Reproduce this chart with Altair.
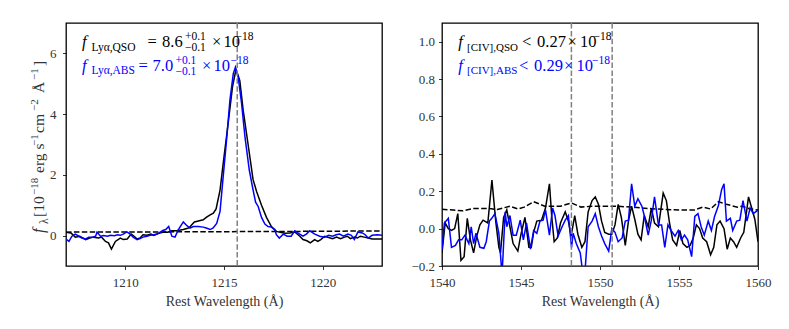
import altair as alt
import pandas as pd

# ---------------- data ----------------
lya_wave_qso = [1207.0, 1207.25, 1207.47, 1207.7, 1208.0, 1208.2, 1208.4, 1208.65, 1208.8, 1209.0,
                1209.15, 1209.3, 1209.5, 1209.75, 1209.9, 1210.1, 1210.3, 1210.45, 1210.6, 1210.75,
                1210.9, 1211.1, 1211.3, 1211.45, 1211.6, 1211.8, 1211.95, 1212.15, 1212.35, 1212.6,
                1212.94, 1213.2, 1213.3, 1213.5, 1213.75, 1213.95, 1214.1, 1214.3, 1214.46, 1214.6,
                1214.8, 1214.96, 1215.21, 1215.43, 1215.6, 1215.7, 1215.8, 1215.97, 1216.22, 1216.47,
                1216.65, 1216.9, 1217.15, 1217.4, 1217.65, 1217.9, 1218.1, 1218.33, 1218.58, 1218.84,
                1219.0, 1219.2, 1219.37, 1219.59, 1219.75, 1219.9, 1220.1, 1220.3, 1220.5, 1220.7,
                1220.9, 1221.1, 1221.25, 1221.4, 1221.6, 1221.75, 1221.9, 1222.1, 1222.3, 1222.5,
                1222.76, 1223.0]
lya_flux_qso = [0.11, 0.09, -0.05, -0.02, -0.13, -0.08, -0.05, -0.08, -0.05, -0.19,
                -0.24, -0.44, -0.19, -0.08, -0.13, -0.11, 0.05, -0.02, -0.11, -0.08,
                0.03, 0.01, 0.05, 0.01, 0.05, 0.09, 0.12, 0.11, 0.16, 0.16,
                0.20, 0.25, 0.31, 0.45, 0.49, 0.52, 0.60, 0.68, 0.74, 0.88,
                1.50, 2.38, 3.70, 4.90, 5.45, 5.30, 5.10, 4.13, 3.00, 1.85,
                1.45, 1.00, 0.60, 0.30, 0.14, 0.10, 0.08, 0.09, 0.12, -0.02,
                -0.13, -0.17, -0.24, -0.13, -0.19, -0.13, -0.02, -0.06, -0.10, -0.05,
                -0.10, -0.05, -0.02, -0.10, -0.05, -0.08, -0.02, -0.05, -0.08, -0.11,
                -0.11, -0.11]

lya_wave_abs = [1207.0, 1207.15, 1207.3, 1207.47, 1207.65, 1207.8, 1208.0, 1208.15, 1208.35, 1208.5,
                1208.57, 1208.75, 1208.9, 1209.1, 1209.25, 1209.45, 1209.6, 1209.75, 1209.9, 1210.08,
                1210.25, 1210.4, 1210.6, 1210.75, 1210.9, 1211.1, 1211.25, 1211.45, 1211.6, 1211.75,
                1211.9, 1212.05, 1212.2, 1212.36, 1212.52, 1212.69, 1212.94, 1213.1, 1213.28, 1213.45,
                1213.7, 1213.95, 1214.1, 1214.3, 1214.45, 1214.63, 1214.8, 1214.96, 1215.13, 1215.3,
                1215.47, 1215.58, 1215.72, 1215.89, 1216.06, 1216.28, 1216.47, 1216.6, 1216.73, 1216.9,
                1217.07, 1217.23, 1217.4, 1217.57, 1217.65, 1217.8, 1218.0, 1218.2, 1218.4, 1218.58,
                1218.75, 1219.0, 1219.17, 1219.34, 1219.6, 1219.84, 1220.1, 1220.3, 1220.5, 1220.68,
                1220.85, 1221.05, 1221.27, 1221.45, 1221.6, 1221.78, 1222.0, 1222.15, 1222.3, 1222.5,
                1222.76, 1223.0]
lya_flux_abs = [-0.11, -0.19, -0.02, 0.05, -0.02, -0.08, -0.11, -0.05, -0.05, -0.02,
                0.11, -0.02, 0.00, -0.02, 0.01, 0.00, 0.03, 0.01, 0.05, 0.12,
                0.05, -0.05, -0.13, -0.10, -0.05, -0.02, 0.01, 0.03, 0.05, 0.11,
                0.17, 0.20, 0.30, -0.02, -0.05, 0.20, 0.45, 0.34, 0.25, 0.30,
                0.30, 0.28, 0.25, 0.20, 0.25, 0.40, 0.80, 1.95, 3.15, 4.46,
                5.33, 5.55, 5.22, 4.35, 3.26, 2.16, 1.51, 1.10, 0.96, 0.60,
                0.38, 0.30, 0.28, 0.20, 0.03, -0.08, 0.05, -0.02, -0.02, 0.16,
                0.08, -0.02, 0.05, 0.16, 0.05, -0.02, -0.05, 0.01, -0.02, 0.03,
                0.05, -0.02, 0.05, 0.01, -0.13, 0.12, 0.09, 0.03, -0.08, 0.01,
                0.03, 0.01]

lya_wave_err = [1207.0, 1211.0, 1215.0, 1219.0, 1223.0]
lya_flux_err = [0.115, 0.12, 0.13, 0.14, 0.155]
lya_center = [1215.67]

civ_wave_qso = [1540.0, 1540.2, 1540.4, 1540.6, 1540.8, 1541.0, 1541.2, 1541.4, 1541.6, 1541.8,
                1542.0, 1542.2, 1542.4, 1542.6, 1542.9, 1543.16, 1543.4, 1543.6, 1543.7, 1543.9,
                1544.1, 1544.3, 1544.5, 1544.8, 1545.0, 1545.25, 1545.5, 1545.65, 1545.8, 1546.0,
                1546.3, 1546.55, 1546.8, 1546.95, 1547.1, 1547.3, 1547.5, 1547.8, 1548.0, 1548.17,
                1548.4, 1548.6, 1548.85, 1549.05, 1549.25, 1549.5, 1549.7, 1549.9, 1550.1, 1550.3,
                1550.55, 1550.75, 1550.95, 1551.15, 1551.35, 1551.6, 1551.8, 1552.0, 1552.2, 1552.4,
                1552.6, 1552.8, 1553.05, 1553.25, 1553.45, 1553.7, 1554.0, 1554.2, 1554.4, 1554.6,
                1554.85, 1555.05, 1555.25, 1555.5, 1555.7, 1555.9, 1556.1, 1556.3, 1556.5, 1556.75,
                1557.0, 1557.2, 1557.4, 1557.6, 1557.85, 1558.05, 1558.25, 1558.45, 1558.65, 1558.9,
                1559.1, 1559.4, 1559.6, 1559.8, 1560.0]
civ_flux_qso = [-0.13, 0.03, 0.00, -0.01, 0.00, 0.08, -0.17, -0.15, 0.055, -0.06,
                -0.13, -0.04, 0.02, 0.045, 0.03, 0.26, 0.04, -0.10, -0.13, 0.06,
                0.10, 0.01, -0.08, -0.12, -0.03, 0.06, -0.10, -0.10, -0.02, 0.04,
                0.045, 0.11, 0.24, 0.06, -0.07, -0.05, 0.03, 0.09, 0.04, -0.04,
                0.07, -0.03, -0.10, -0.07, 0.09, 0.15, 0.17, 0.13, 0.04, -0.02,
                -0.03, -0.03, 0.02, 0.13, 0.06, -0.09, 0.04, 0.12, 0.05, -0.03,
                -0.06, 0.07, 0.01, 0.11, 0.03, 0.01, 0.19, 0.15, 0.03, -0.06,
                -0.09, -0.01, -0.08, -0.10, -0.09, -0.05, 0.02, 0.00, -0.05, -0.07,
                -0.14, -0.10, 0.02, 0.04, 0.00, -0.11, -0.05, -0.07, -0.10, -0.05,
                -0.02, 0.17, 0.11, 0.05, -0.07]

civ_wave_abs = [1540.0, 1540.15, 1540.4, 1540.6, 1540.85, 1541.05, 1541.25, 1541.45, 1541.7, 1541.85,
                1542.0, 1542.15, 1542.4, 1542.65, 1542.8, 1543.0, 1543.15, 1543.35, 1543.6, 1543.8,
                1544.0, 1544.1, 1544.3, 1544.5, 1544.7, 1544.95, 1545.15, 1545.35, 1545.6, 1545.8,
                1546.0, 1546.2, 1546.4, 1546.55, 1546.8, 1547.0, 1547.15, 1547.35, 1547.6, 1547.8,
                1548.0, 1548.2, 1548.3, 1548.5, 1548.75, 1548.9, 1549.05, 1549.25, 1549.5, 1549.7,
                1549.9, 1550.1, 1550.3, 1550.55, 1550.75, 1550.95, 1551.15, 1551.4, 1551.6, 1551.8,
                1552.0, 1552.2, 1552.4, 1552.65, 1552.8, 1553.05, 1553.25, 1553.45, 1553.7, 1553.9,
                1554.1, 1554.3, 1554.5, 1554.75, 1554.95, 1555.15, 1555.35, 1555.55, 1555.8, 1556.0,
                1556.2, 1556.4, 1556.6, 1556.85, 1557.05, 1557.25, 1557.5, 1557.7, 1557.85, 1558.0,
                1558.25, 1558.4, 1558.65, 1558.85, 1559.05, 1559.3, 1559.5, 1559.7, 1559.85, 1560.0]
civ_flux_abs = [-0.11, 0.03, 0.055, -0.10, -0.09, -0.06, -0.06, -0.035, -0.08, 0.01,
                -0.08, -0.025, -0.10, -0.105, -0.07, 0.04, 0.055, 0.08, -0.025, -0.25,
                0.09, 0.01, 0.07, -0.035, -0.035, 0.045, -0.06, 0.03, -0.11, -0.01,
                -0.025, 0.04, 0.045, 0.10, -0.035, 0.11, 0.07, -0.04, 0.01, 0.045,
                0.07, -0.10, -0.025, -0.08, -0.13, -0.23, -0.23, 0.01, 0.04, 0.08,
                0.01, -0.04, -0.08, -0.12, 0.00, -0.02, -0.07, -0.05, 0.04, 0.045,
                0.24, 0.12, 0.16, 0.12, 0.07, -0.035, 0.045, 0.17, 0.02, 0.02,
                -0.10, 0.02, -0.01, -0.04, -0.01, -0.06, -0.035, -0.06, -0.15, 0.065,
                0.08, 0.01, -0.035, 0.04, -0.01, 0.065, 0.125, 0.21, 0.24, 0.04,
                0.055, -0.01, 0.04, 0.045, 0.15, 0.04, 0.11, 0.08, 0.09, 0.10]

civ_wave_err = [1540.0, 1540.7, 1541.3, 1542.0, 1543.0, 1543.5, 1544.3, 1544.8, 1545.2, 1545.8,
                1546.5, 1547.5, 1548.2, 1548.8, 1549.5, 1551.0, 1552.0, 1553.0, 1554.0, 1555.0,
                1556.0, 1556.5, 1557.0, 1557.5, 1558.0, 1558.7, 1559.0, 1559.5, 1560.0]
civ_flux_err = [0.103, 0.10, 0.095, 0.108, 0.108, 0.102, 0.12, 0.105, 0.115, 0.144,
                0.12, 0.12, 0.137, 0.115, 0.12, 0.12, 0.115, 0.108, 0.103, 0.10,
                0.10, 0.115, 0.105, 0.144, 0.13, 0.115, 0.12, 0.105, 0.10]
civ_centers = [1548.19, 1550.77]

lya_xticks = [1210, 1215, 1220]
lya_yticks = [0, 2, 4, 6]
civ_xticks = [1540, 1545, 1550, 1555, 1560]
civ_yticks = [-0.2, 0.0, 0.2, 0.4, 0.6, 0.8, 1.0]

# ---------------- style ----------------
FONT = "Liberation Serif"
BLACK = "#000000"
BLUE = "#0000ff"
GRAY = "#808080"
TXT = "#333333"
W, H = 316, 243
DASH = [5.5, 2.4]


def spec_df(w, f):
    return pd.DataFrame({"wave": w, "flux": f})


def text_piece(t, x, y, size, color=BLACK, italic=False, angle=0):
    kw = dict(align="left", baseline="alphabetic", font=FONT, fontSize=size,
              color=color, fontStyle="italic" if italic else "normal")
    if angle:
        kw["angle"] = angle
    return alt.Chart(pd.DataFrame({"t": [t]})).mark_text(**kw).encode(
        x=alt.value(x), y=alt.value(y), text="t:N")


def axis(values, title, fmt, orient, pad):
    return alt.Axis(values=values, format=fmt, title=title, grid=False, domain=False,
                    ticks=True, tickSize=3.5, tickWidth=0.8, tickColor=BLACK,
                    labelFont=FONT, labelFontSize=13, labelColor=TXT, labelPadding=pad,
                    titleFont=FONT, titleFontSize=14, titleFontWeight="normal",
                    titleColor=TXT, titlePadding=5, orient=orient, labelFlush=False,
                    labelOverlap=False)


def panel(qw, qf, aw, af, ew, ef, centers, xdom, ydom, xt, yt, yfmt, ypad, xtitle, pieces):
    xs = alt.Scale(domain=xdom, nice=False, zero=False)
    ys = alt.Scale(domain=ydom, nice=False, zero=False)
    xa = axis(xt, xtitle, "d", "bottom", 7)
    ya = axis(yt, "", yfmt, "left", ypad)
    X = alt.X("wave:Q", scale=xs, axis=xa)
    Y = alt.Y("flux:Q", scale=ys, axis=ya)
    err = alt.Chart(spec_df(ew, ef)).mark_line(color=BLACK, strokeWidth=1.5, strokeDash=DASH,
                                               clip=True).encode(x=X, y=Y)
    qso = alt.Chart(spec_df(qw, qf)).mark_line(color=BLACK, strokeWidth=1.5, clip=True).encode(
        x=X, y=Y)
    ab = alt.Chart(spec_df(aw, af)).mark_line(color=BLUE, strokeWidth=1.5, clip=True).encode(
        x=X, y=Y)
    rules = alt.Chart(pd.DataFrame({"wave": centers})).mark_rule(
        color=GRAY, strokeWidth=1.5, strokeDash=DASH).encode(x=X)
    layers = [err, qso, ab, rules] + [text_piece(*p) for p in pieces]
    return alt.layer(*layers).properties(width=W, height=H)


def lya_line(label, value, y, color):
    q = "QSO" in label
    return [
        ("f", 16, y, 16.5, color, True),
        (label, 25.5, y + 3.5, 11.5, color),
        ("=", 81.5 if q else 72.5, y, 16.5, color),
        (value, 96 if q else 86.5, y, 16.5, color),
        ("+0.1", 119 if q else 109.5, y - 7, 11.5, color),
        ("\u22120.1", 119 if q else 109.5, y + 4, 11.5, color),
        ("\u00d7", 146 if q else 136, y, 16.5, color),
        ("10", 157.5 if q else 147.5, y, 16.5, color),
        ("\u221218", 169.5 if q else 164.5, y - 7, 11.5, color),
    ]


def civ_line(label, value, y, color):
    q = "QSO" in label
    return [
        ("f", 16.3, y, 16.5, color, True),
        (label, 25, y + 3.5, 11, color),
        ("<", 80 if q else 77, y, 16.5, color),
        (value, 95 if q else 92, y, 16.5, color),
        ("\u00d7", 125.6 if q else 122, y, 16.5, color),
        ("10", 138 if q else 134.5, y, 16.5, color),
        ("\u221218", 151.6 if q else 150, y - 7, 11.5, color),
    ]


ytitle = [
    ("f", -22, 210, 16.5, TXT, True, 270),
    ("\u03bb", -18.5, 201, 11.5, TXT, False, 270),
    ("[10", -22, 194, 15.5, TXT, False, 270),
    ("\u221218", -28, 172, 11, TXT, False, 270),
    ("erg s", -22, 150, 15.5, TXT, False, 270),
    ("\u22121", -28, 123, 11, TXT, False, 270),
    ("cm", -22, 110, 15.5, TXT, False, 270),
    ("\u22122", -28, 88, 11, TXT, False, 270),
    ("\u00c5", -22, 70, 15.5, TXT, False, 270),
    ("\u22121", -28, 57, 11, TXT, False, 270),
    ("]", -22, 43, 15.5, TXT, False, 270),
]

left = panel(lya_wave_qso, lya_flux_qso, lya_wave_abs, lya_flux_abs, lya_wave_err, lya_flux_err,
             lya_center, [1207, 1223], [-1, 7], lya_xticks, lya_yticks, "d", 6.5,
             "Rest Wavelength (\u00c5)",
             lya_line("Ly\u03b1,QSO", "8.6", 24, BLACK) + lya_line("Ly\u03b1,ABS", "7.0", 47.5, BLUE) + ytitle)

right = panel(civ_wave_qso, civ_flux_qso, civ_wave_abs, civ_flux_abs, civ_wave_err, civ_flux_err,
              civ_centers, [1540, 1560], [-0.2, 1.1], civ_xticks, civ_yticks, ".1f", 4,
              "Rest Wavelength (\u00c5)",
              civ_line("[CIV],QSO", "0.27", 24, BLACK) + civ_line("[CIV],ABS", "0.29", 47.5, BLUE))

chart = alt.hconcat(left, right, spacing=60, bounds="flush").properties(
    padding={"left": 20, "top": 13, "right": 5, "bottom": 5}
).configure(background="white").configure_view(stroke=BLACK, strokeWidth=1.3)

chart.save("out.html", embed_options={"renderer": "svg", "actions": False})
